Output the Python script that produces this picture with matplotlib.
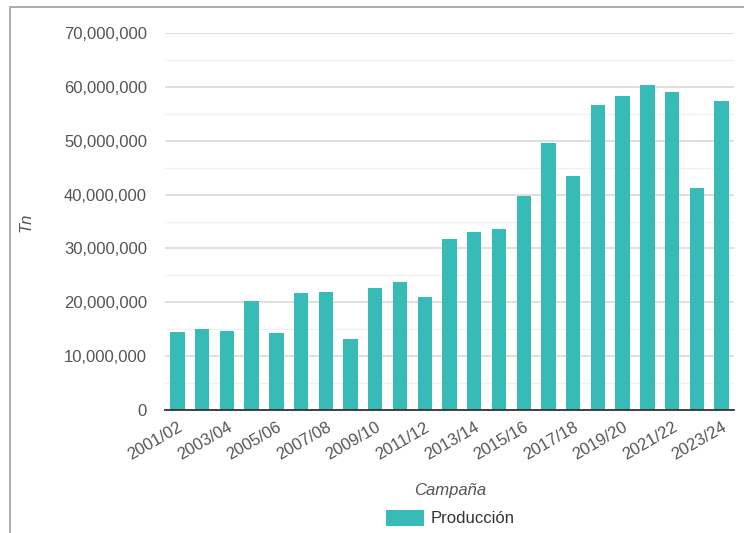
import matplotlib

matplotlib.use('Agg')
import matplotlib.pyplot as plt
from matplotlib.patches import Rectangle
from matplotlib.ticker import FuncFormatter, MultipleLocator

# Production by campaign (Tn)
campaigns = ['2001/02', '2002/03', '2003/04', '2004/05', '2005/06', '2006/07', '2007/08',
             '2008/09', '2009/10', '2010/11', '2011/12', '2012/13', '2013/14', '2014/15',
             '2015/16', '2016/17', '2017/18', '2018/19', '2019/20', '2020/21', '2021/22',
             '2022/23', '2023/24']
produccion = [14.55e6, 15.0e6, 14.75e6, 20.3e6, 14.3e6, 21.7e6, 21.9e6,
              13.1e6, 22.6e6, 23.8e6, 21.0e6, 31.8e6, 33.1e6, 33.7e6,
              39.7e6, 49.5e6, 43.4e6, 56.6e6, 58.3e6, 60.3e6, 59.0e6,
              41.3e6, 57.4e6]

bar_color = '#36bbb6'
text_color = '#555555'

plt.rcParams['font.family'] = ['Liberation Sans', 'DejaVu Sans']

fig = plt.figure(figsize=(7.44, 5.33), dpi=100)
ax = fig.add_axes([165 / 744, 123 / 533, 569 / 744, 377 / 533])

x = list(range(len(campaigns)))
ax.bar(x, produccion, width=0.58, color=bar_color, label='Producción', zorder=3)

ax.set_xlim(-0.5, len(campaigns) - 0.5)
ax.set_ylim(0, 70e6)
ax.yaxis.set_major_locator(MultipleLocator(10e6))
ax.yaxis.set_minor_locator(MultipleLocator(5e6))
ax.yaxis.set_major_formatter(FuncFormatter(lambda v, p: '{:,.0f}'.format(v)))
ax.grid(axis='y', which='major', color='#d9d9d9', linewidth=1.2, zorder=0)
ax.grid(axis='y', which='minor', color='#f0f0f0', linewidth=1.0, zorder=0)

ax.set_xticks(x[::2])
ax.set_xticklabels(campaigns[::2], rotation=30, ha='right', rotation_mode='anchor')
ax.tick_params(axis='both', which='both', length=0, labelsize=12, labelcolor=text_color)
ax.tick_params(axis='y', pad=13)
ax.tick_params(axis='x', pad=7)

for s in ['top', 'right', 'left']:
    ax.spines[s].set_visible(False)
ax.spines['bottom'].set_color('#333333')
ax.spines['bottom'].set_linewidth(1.3)
ax.spines['bottom'].set_zorder(4)

fig.text(26 / 744, 1 - 222 / 533, 'Tn', rotation=90, style='italic', fontsize=12,
         color=text_color, ha='center', va='center')
fig.text(450 / 744, 1 - 490 / 533, 'Campaña', style='italic', fontsize=12,
         color=text_color, ha='center', va='center')

fig.legend(loc='center', bbox_to_anchor=(450 / 744, 1 - 518 / 533), frameon=False,
           fontsize=12, labelcolor='#333333', handlelength=2.3, handleheight=1.1,
           handletextpad=0.4)

# outer frame
fig.patches.append(Rectangle((10 / 744, -0.1), 1.2, 1.1 - 7 / 533, transform=fig.transFigure,
                             fill=False, edgecolor='#a0a0a0', linewidth=1.2))

plt.savefig('out.png', dpi=100)
